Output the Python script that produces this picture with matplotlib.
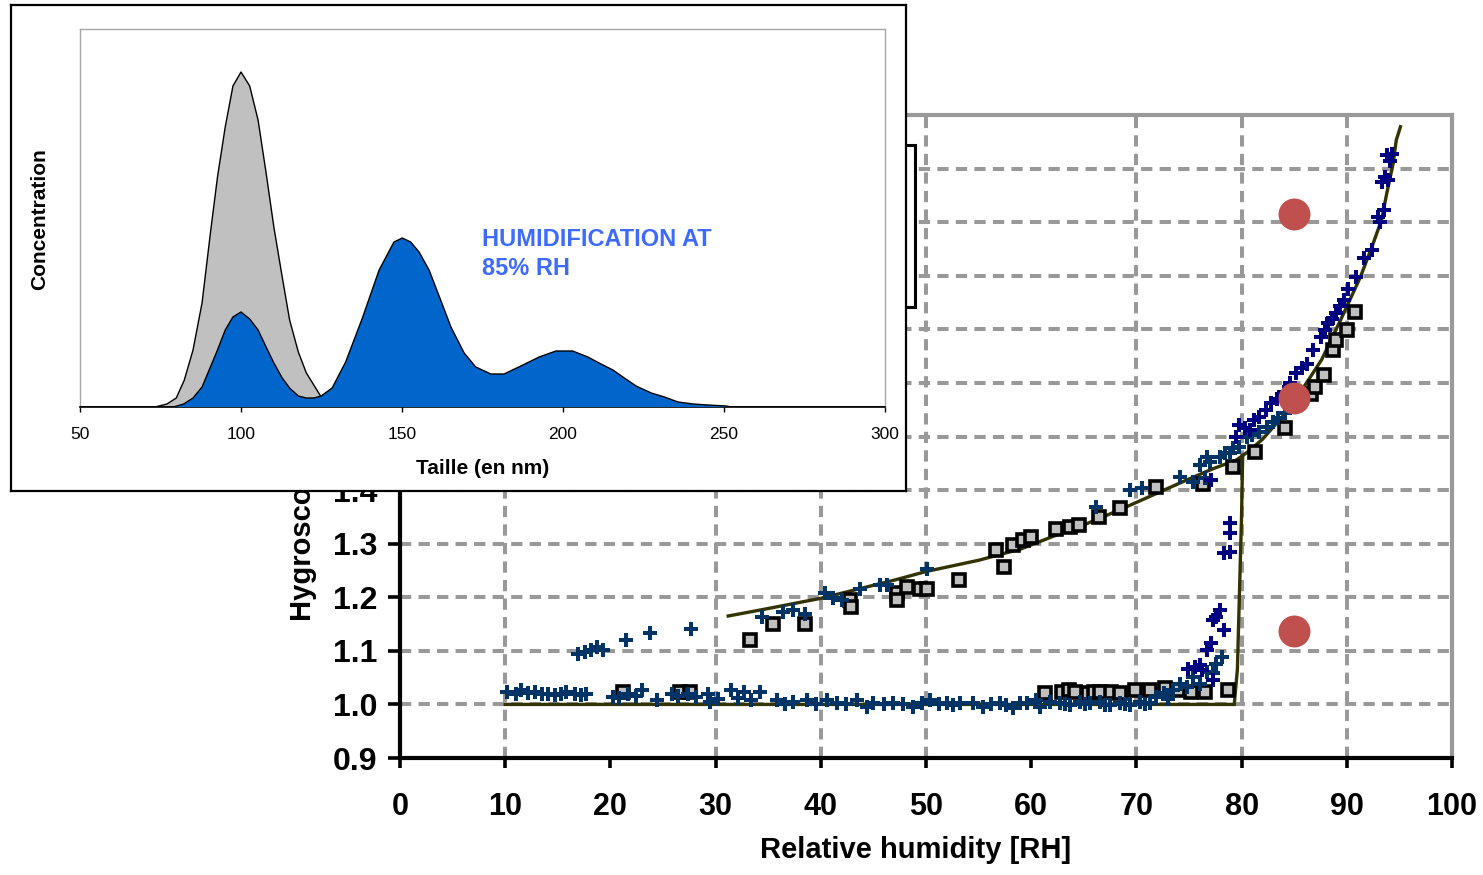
import matplotlib
matplotlib.use("Agg")
import matplotlib.pyplot as plt
from matplotlib.patches import Rectangle

# ---------------- data: inset size distribution ----------------
DRY_NM = [50, 73.3, 77.0, 79.9, 82.4, 85.1, 87.9, 90.5, 92.7, 95.1, 97.5, 100.0,
          102.7, 105.3, 107.8, 110.2, 112.8, 115.1, 117.8, 120.3, 122.6, 124.9, 127.5, 130, 300]
DRY_CONC = [0, 0, 3, 9, 27, 57, 104, 174, 230, 280, 321, 335,
            321, 287, 234, 180, 130, 87, 55, 34, 22, 10, 3, 0, 0]

WET_NM = [50, 79.0, 82.2, 85.1, 87.9, 90.5, 92.7, 95.1, 97.5, 100.0, 102.7, 105.3,
          107.8, 110.2, 112.8, 115.1, 117.8, 120.3, 122.6, 124.9, 128.3, 132.5, 137.7,
          142.9, 147.5, 150.1, 152.7, 155.3, 158.4, 162.0, 165.2, 169.3, 172.9, 177.6,
          181.7, 186.9, 192.6, 197.8, 203.0, 207.7, 211.8, 215.5, 218.6, 222.7, 227.4,
          231.5, 235.7, 240.4, 245.0, 250.7, 252.3, 300]
WET_CONC = [0, 0, 3, 9, 20, 40, 57, 77, 90, 95, 88, 77,
            60, 44, 29, 19, 11, 9, 9, 11, 19, 45, 89,
            137, 165, 169, 165, 155, 137, 107, 80, 54, 40, 33,
            33, 41, 50, 56, 56, 50, 43, 37, 30, 21, 14,
            10, 5, 3, 2, 1, 0, 0]

INSET_XTICKS = [50, 100, 150, 200, 250, 300]

# ---------------- data: main chart (growth factor vs RH) ----------------
X_TICKS = [0, 10, 20, 30, 40, 50, 60, 70, 80, 90, 100]
Y_TICKS = [0.9, 1.0, 1.1, 1.2, 1.3, 1.4, 1.5, 1.6, 1.7, 1.8, 1.9, 2.0]
Y_TICKLABELS = ["0.9", "1.0", "1.1", "1.2", "1.3", "1.4", "1.5", "1.6", "1.7", "1.8", "1.9", "2.0"]
V_GRID = [10, 30, 40, 50, 70, 80, 90]
H_GRID = [1.0, 1.1, 1.2, 1.3, 1.4, 1.5, 1.6, 1.7, 1.8, 1.9, 2.0]

# model curves
LOWER_RH = [10, 79.3, 79.6, 79.8, 80.0, 80.1]
LOWER_G = [1.0, 1.0, 1.065, 1.21, 1.355, 1.465]
UPPER_RH = [31.2, 34.2, 40.0, 47.0, 50.0, 55.0, 59.0, 62.0, 65.0, 68.4, 71.6, 74.8, 77.3,
            79.5, 80.5, 82.0, 84.0, 86.0, 87.6, 89.4, 91.3, 92.5, 93.3, 93.8, 94.4, 94.7, 95.1]
UPPER_G = [1.165, 1.176, 1.198, 1.232, 1.248, 1.269, 1.290, 1.313, 1.335, 1.363, 1.391, 1.419, 1.440,
           1.456, 1.470, 1.495, 1.540, 1.595, 1.643, 1.717, 1.798, 1.860, 1.904, 1.954, 2.009, 2.053, 2.078]

# teal crosses
TEAL_RH = [10.2, 11.0, 11.5, 12.2, 12.8, 13.5, 14.1, 14.7, 15.3, 15.8, 16.6, 17.2, 17.7,
           20.2, 20.8, 21.7, 22.4, 23.0, 24.4, 25.9, 26.4, 27.4, 28.1, 29.3, 29.5, 30.2,
           31.5, 32.1, 32.7, 33.4, 34.2,
           35.8, 36.6, 37.4, 38.7, 39.5, 40.6, 41.5, 42.4, 43.4, 44.4, 45.0, 46.0, 46.9,
           47.8, 48.8, 49.6, 50.4, 51.2, 52.0, 52.6, 53.2, 54.5, 55.4, 56.2, 57.0, 57.6,
           58.3, 58.9, 59.6, 60.5, 60.8, 61.8, 62.7, 63.2, 63.7, 64.6, 65.1, 65.6, 66.5,
           67.0, 67.5, 68.4, 68.9, 69.4, 70.3, 70.8, 71.3, 71.9, 72.6, 73.0, 73.5, 74.1,
           74.8, 75.4, 76.0, 76.7, 77.3, 77.6, 78.1,
           16.9, 17.6, 18.2, 18.7, 19.3, 21.5, 23.8, 27.7, 34.4, 36.4, 37.4, 38.5, 40.4,
           41.2, 42.0, 43.7, 45.6, 46.3, 50.1,
           66.2, 69.4, 70.5, 74.1, 75.4, 76.0, 76.5, 76.7, 77.0, 77.9, 78.4, 78.9, 79.2,
           79.8, 80.5, 81.0, 81.7, 82.4, 83.0, 83.5, 84.1, 84.7]
TEAL_G = [1.024, 1.020, 1.027, 1.022, 1.024, 1.020, 1.020, 1.018, 1.020, 1.024, 1.020, 1.018, 1.020,
          1.014, 1.012, 1.020, 1.016, 1.027, 1.008, 1.020, 1.016, 1.020, 1.014, 1.020, 1.005, 1.010,
          1.027, 1.012, 1.024, 1.008, 1.024,
          1.008, 1.000, 1.005, 1.008, 1.000, 1.008, 1.002, 1.000, 1.008, 0.996, 1.002, 1.000, 1.002,
          1.000, 0.996, 1.002, 1.008, 1.000, 1.002, 0.998, 1.002, 1.002, 0.996, 1.000, 1.002, 0.998,
          0.993, 1.002, 1.002, 1.008, 0.996, 1.005, 1.002, 1.000, 0.999, 1.005, 1.000, 1.002, 1.005,
          0.998, 0.999, 1.002, 1.000, 0.999, 1.005, 1.000, 1.002, 1.014, 1.021, 1.010, 1.027, 1.039,
          1.033, 1.052, 1.039, 1.061, 1.058, 1.076, 1.089,
          1.095, 1.098, 1.101, 1.108, 1.101, 1.120, 1.133, 1.140, 1.164, 1.173, 1.176, 1.168, 1.207,
          1.198, 1.195, 1.216, 1.223, 1.223, 1.253,
          1.369, 1.400, 1.403, 1.425, 1.416, 1.447, 1.422, 1.462, 1.453, 1.462, 1.469, 1.469, 1.478,
          1.481, 1.500, 1.503, 1.509, 1.518, 1.527, 1.535, 1.543, 1.555]

# navy crosses
NAVY_RH = [74.9, 75.6, 76.0, 76.2, 76.7, 77.1, 77.3, 77.3, 77.6, 77.9, 78.3, 78.3, 78.9, 78.9, 78.9,
           77.1, 79.5, 79.8, 80.3, 80.8, 81.2, 81.7, 82.3, 82.8, 83.4, 84.0, 84.6, 85.2, 85.7,
           86.2, 86.8, 87.5, 87.9, 88.2, 88.6, 89.0, 89.4, 89.7, 90.1, 90.9, 91.6, 92.4, 93.0,
           93.2, 93.5, 93.3, 93.9, 93.6, 93.8, 94.1, 94.3]
NAVY_G = [1.067, 1.070, 1.074, 1.064, 1.101, 1.114, 1.157, 1.046, 1.163, 1.176, 1.139, 1.282, 1.285, 1.319, 1.338,
          1.419, 1.500, 1.521, 1.515, 1.512, 1.530, 1.537, 1.550, 1.562, 1.570, 1.583, 1.600, 1.618, 1.627,
          1.636, 1.661, 1.686, 1.698, 1.711, 1.720, 1.730, 1.743, 1.754, 1.776, 1.798, 1.833, 1.848, 1.910,
          1.900, 1.923, 1.975, 1.978, 1.985, 2.025, 2.014, 2.028]

# gray squares
SQ_RH = [21.2, 26.6, 27.6, 61.3, 62.9, 63.6, 64.2, 65.4, 66.0, 66.5, 67.6, 68.4, 69.9, 71.3, 72.7,
         74.0, 75.2, 76.5, 78.7,
         33.3, 35.5, 38.5, 42.8, 42.9, 47.2, 47.2, 48.2, 49.4, 50.1, 53.1, 56.7, 57.4, 58.3, 59.2,
         60.0, 62.4, 63.7, 64.5, 66.4, 68.4, 71.9, 76.3, 79.2, 81.3, 84.1, 86.6, 87.0, 87.8, 88.7,
         89.0, 90.0, 90.8]
SQ_G = [1.024, 1.024, 1.024, 1.021, 1.024, 1.026, 1.024, 1.021, 1.024, 1.024, 1.024, 1.021, 1.027, 1.027, 1.030,
        1.027, 1.024, 1.024, 1.027,
        1.120, 1.151, 1.150, 1.195, 1.182, 1.207, 1.195, 1.220, 1.216, 1.216, 1.232, 1.288, 1.257, 1.297, 1.307,
        1.313, 1.328, 1.331, 1.335, 1.350, 1.367, 1.406, 1.412, 1.443, 1.471, 1.515, 1.580, 1.593, 1.615, 1.661,
        1.680, 1.699, 1.733]

# red highlighted points
RED_RH = [85, 85, 85]
RED_G = [1.915, 1.572, 1.137]

# ---------------- figure ----------------
W, H = 1483, 875
fig = plt.figure(figsize=(W / 100, H / 100), dpi=100)
fig.patch.set_facecolor("white")

BIG = ["Liberation Sans", "DejaVu Sans"]
SANS = ["Liberation Sans", "DejaVu Sans"]


def fx(px):
    return px / W


def fy(py):
    return 1 - py / H


# main axes: plot area from x=400..1452, y=115..758 (pixels)
ax = fig.add_axes([fx(400), fy(758), fx(1452) - fx(400), fy(115) - fy(758)])
ax.set_xlim(0, 100)
ax.set_ylim(0.9, 2.1)

for g in H_GRID:
    ax.axhline(g, color="#999999", lw=2.9, ls=(0, (2.8, 1.8)), zorder=0.5)
for v in V_GRID:
    ax.axvline(v, color="#999999", lw=2.9, ls=(0, (2.8, 1.8)), zorder=0.5)

for s in ("top", "right"):
    ax.spines[s].set_color("#999999")
    ax.spines[s].set_linewidth(3.0)
for s in ("left", "bottom"):
    ax.spines[s].set_color("black")
    ax.spines[s].set_linewidth(3.0)

ax.set_xticks(X_TICKS)
ax.set_xticklabels([str(t) for t in X_TICKS])
ax.set_yticks(Y_TICKS)
ax.set_yticklabels(Y_TICKLABELS)
ax.tick_params(axis="x", direction="out", length=7.5, width=2.6, pad=17, labelsize=22)
ax.tick_params(axis="y", direction="out", length=8.5, width=2.6, pad=8, labelsize=23)
for lab in ax.get_xticklabels() + ax.get_yticklabels():
    lab.set_family(BIG)
    lab.set_weight("bold")

ax.plot(LOWER_RH, LOWER_G, color="#333300", lw=2.4, zorder=2, solid_joinstyle="miter")
ax.plot(UPPER_RH, UPPER_G, color="#333300", lw=2.4, zorder=2)

ax.plot(SQ_RH, SQ_G, ls="none", marker="s", ms=8, mfc="#C0C0C0", mec="black", mew=2.6, zorder=3)
ax.plot(TEAL_RH, TEAL_G, ls="none", marker="P", ms=9.5, color="#003366", mew=0, zorder=4)
ax.plot(NAVY_RH, NAVY_G, ls="none", marker="P", ms=9.5, color="#000080", mew=0, zorder=4)
ax.plot(RED_RH, RED_G, ls="none", marker="o", ms=23, color="#C0504D", mew=0, zorder=6)

ax.text((916 - 400) / 1052, (758 - 850) / 643, "Relative humidity [RH]", transform=ax.transAxes,
        ha="center", va="center", fontsize=21, fontweight="bold", family=BIG)
ax.text((303 - 400) / 1052, (758 - 621) / 643, "Hygroscopic growth factor", transform=ax.transAxes,
        ha="center", va="bottom", rotation=90, fontsize=21, fontweight="bold", family=BIG)

# partially hidden legend box of the main chart
ax.add_patch(Rectangle((fx(600), fy(307)), fx(915) - fx(600), fy(145) - fy(307),
                       transform=fig.transFigure, facecolor="white", edgecolor="black",
                       lw=2.2, clip_on=False, zorder=5))

# ---------------- inset ----------------
frame = fig.add_axes([fx(11), fy(491), fx(906) - fx(11), fy(5) - fy(491)])
frame.set_xticks([])
frame.set_yticks([])
frame.set_facecolor("white")
for s in frame.spines.values():
    s.set_color("black")
    s.set_linewidth(1.6)

ins = fig.add_axes([fx(80), fy(407), fx(885) - fx(80), fy(29) - fy(407)])
ins.set_xlim(50, 300)
ins.set_ylim(0, 378)
ins.set_facecolor("white")
ins.fill_between(DRY_NM, DRY_CONC, 0, facecolor="#C0C0C0", edgecolor="none", zorder=1)
ins.plot(DRY_NM, DRY_CONC, color="black", lw=1.0, zorder=2)
ins.fill_between(WET_NM, WET_CONC, 0, facecolor="#0066CC", edgecolor="none", zorder=3)
ins.plot(WET_NM, WET_CONC, color="black", lw=1.0, zorder=4)

for s in ("top", "right", "left"):
    ins.spines[s].set_color("#A6A6A6")
    ins.spines[s].set_linewidth(1.0)
ins.spines["bottom"].set_color("black")
ins.spines["bottom"].set_linewidth(1.2)
ins.set_yticks([])
ins.set_xticks(INSET_XTICKS)
ins.set_xticklabels([str(t) for t in INSET_XTICKS])
ins.tick_params(axis="x", direction="out", length=3.5, width=1.0, pad=11, labelsize=12.5)
for lab in ins.get_xticklabels():
    lab.set_family(SANS)

ins.text(0.5, (407 - 469) / 378, "Taille (en nm)", transform=ins.transAxes, ha="center", va="center",
         fontsize=15, fontweight="bold", family=SANS)
ins.text(-40 / 805, (407 - 219) / 378, "Concentration", transform=ins.transAxes, ha="center", va="center",
         rotation=90, fontsize=15, fontweight="bold", family=SANS)
ins.text(174.8, 153, "HUMIDIFICATION AT\n85% RH", ha="left", va="center", fontsize=17,
         fontweight="bold", color="#3D6BFF", family=SANS, linespacing=1.3)

fig.savefig("out.png", dpi=100)
